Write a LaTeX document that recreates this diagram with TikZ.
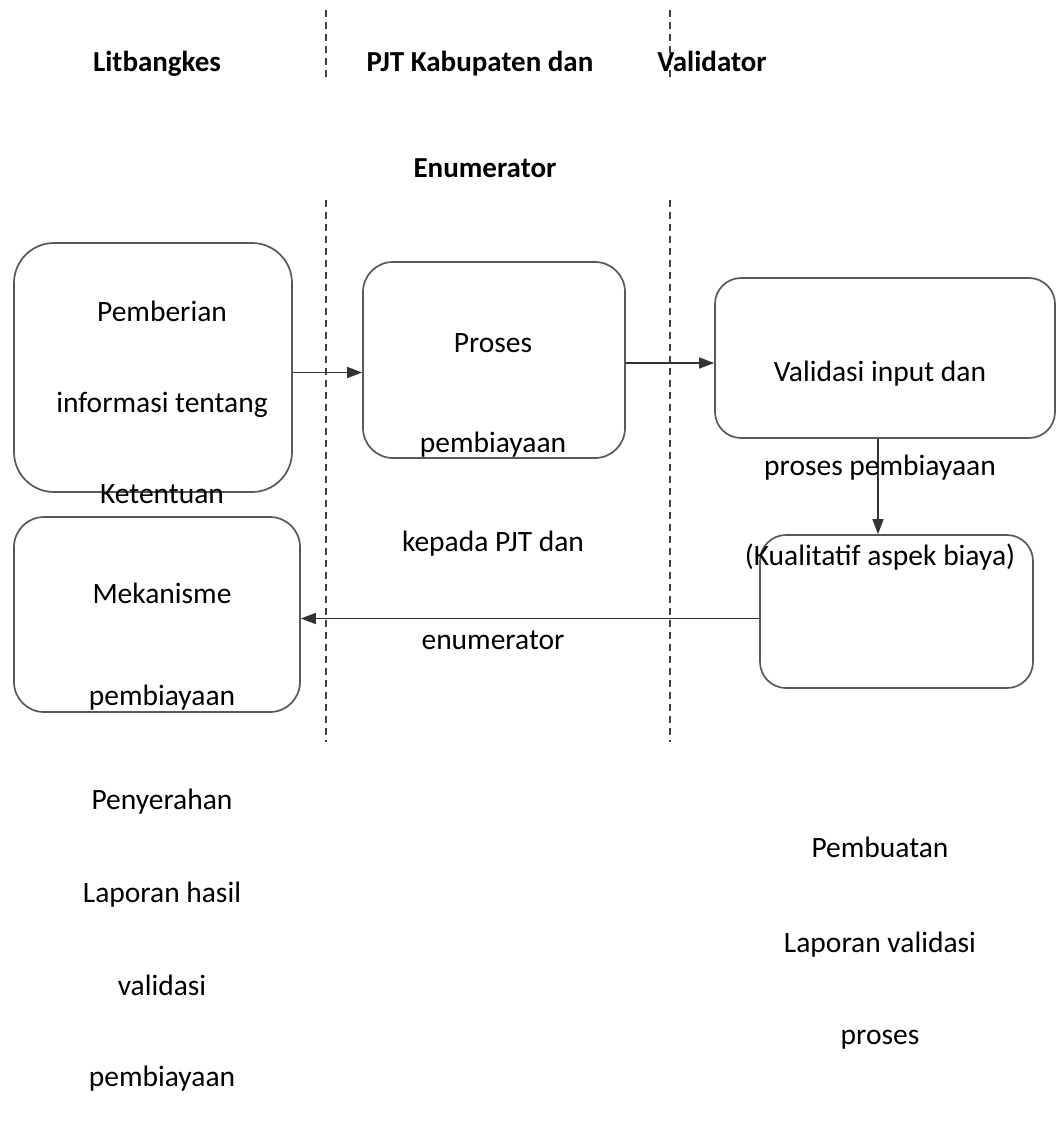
\documentclass[tikz,border=0pt]{standalone}
\usepackage{fontspec}
\setmainfont{Carlito}
\usetikzlibrary{arrows.meta}
\begin{document}
\begin{tikzpicture}[x=1pt,y=-1pt,
  box/.style={draw=black!65, line width=1.7pt, inner sep=0pt, rectangle},
  lbl/.style={font=\fontsize{29.5}{35}\selectfont, inner sep=0pt, anchor=base},
  hdr/.style={font=\fontsize{29}{35}\selectfont\bfseries, inner sep=0pt, anchor=base},
  lane/.style={draw=black!75, line width=1.4pt, dash pattern=on 7pt off 5pt},
  flow/.style={draw=black!80, line width=1.5pt, -{Triangle[length=15pt,width=11pt]}}
]
\useasboundingbox (0,0) rectangle (1058,1122);
\fill[white] (0,0) rectangle (1058,1122);

% lane separators
\coordinate (l1a) at (326,10);  \coordinate (l1b) at (326,78);
\coordinate (r1a) at (670,10);  \coordinate (r1b) at (670,78);
\coordinate (l2a) at (326,200); \coordinate (l2b) at (326,742);
\coordinate (r2a) at (670,200); \coordinate (r2b) at (670,742);
\draw[lane] (l1a) -- (l1b);
\draw[lane] (r1a) -- (r1b);
\draw[lane] (l2a) -- (l2b);
\draw[lane] (r2a) -- (r2b);

% headers
\node[hdr] (h1) at (157,71) {Litbangkes};
\node[hdr] (h2) at (480,71) {PJT Kabupaten dan};
\node[hdr] (h3) at (712,71) {Validator};
\node[hdr] (h4) at (485,177) {Enumerator};

% boxes
\node[box, rounded corners=40pt, minimum width=278pt, minimum height=249pt] (b1) at (153,367.5) {};
\node[box, rounded corners=30pt, minimum width=262pt, minimum height=196pt] (b2) at (494,360) {};
\node[box, rounded corners=26pt, minimum width=340pt, minimum height=160pt] (b3) at (885,358) {};
\node[box, rounded corners=30pt, minimum width=286pt, minimum height=195pt] (b4) at (157,614.5) {};
\node[box, rounded corners=26pt, minimum width=273pt, minimum height=153pt] (b5) at (896.5,611.5) {};

% connectors
\coordinate (a1) at ([yshift=-5pt]b1.east);
\draw[flow] (a1) -- (a1 -| b2.west);
\coordinate (a2) at ([yshift=-3pt]b2.east);
\draw[flow] (a2) -- (a2 -| b3.west);
\coordinate (d1) at ([xshift=-7pt]b3.south);
\draw[flow] (d1) -- (d1 |- b5.north);
\coordinate (a4) at ([yshift=-7pt]b5.west);
\draw[flow] (a4) -- (a4 -| b4.east);

% texts
\node[lbl] (t1) at (162,321) {Pemberian};
\node[lbl] (t2) at (162,412) {informasi tentang};
\node[lbl] (t3) at (162,503) {Ketentuan};
\node[lbl] (t4) at (162,603) {Mekanisme};
\node[lbl] (t5) at (162,705) {pembiayaan};
\node[lbl] (t6) at (493,352) {Proses};
\node[lbl] (t7) at (493,452) {pembiayaan};
\node[lbl] (t8) at (493,551) {kepada PJT dan};
\node[lbl] (t9) at (493,649) {enumerator};
\node[lbl] (t10) at (880,381) {Validasi input dan};
\node[lbl] (t11) at (880,475) {proses pembiayaan};
\node[lbl] (t12) at (880,565) {(Kualitatif aspek biaya)};
\node[lbl] (t13) at (162,809) {Penyerahan};
\node[lbl] (t14) at (162,902) {Laporan hasil};
\node[lbl] (t15) at (162,995) {validasi};
\node[lbl] (t16) at (162,1086) {pembiayaan};
\node[lbl] (t17) at (880,857) {Pembuatan};
\node[lbl] (t18) at (880,952) {Laporan validasi};
\node[lbl] (t19) at (880,1044) {proses};
\end{tikzpicture}
\end{document}
